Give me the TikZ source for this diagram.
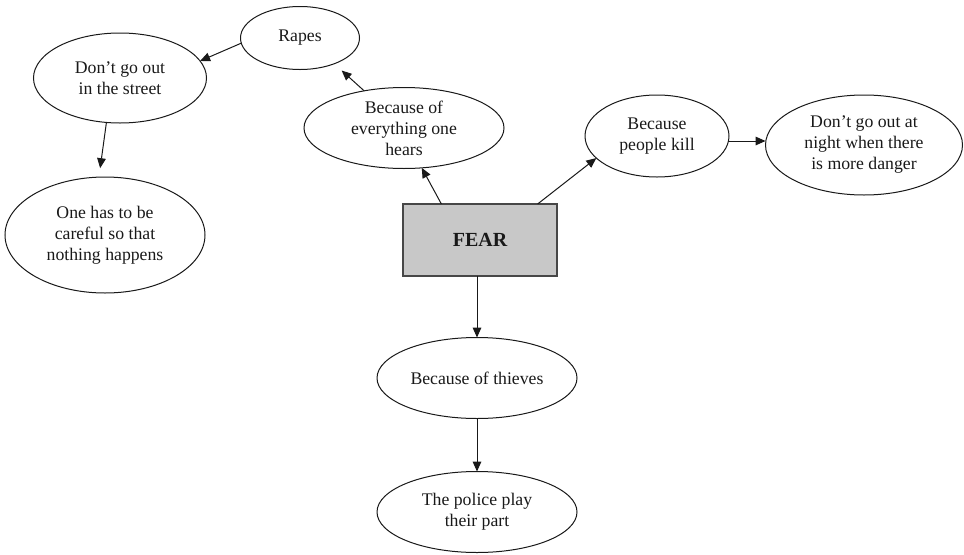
\documentclass[tikz,border=0pt]{standalone}
\usepackage{fontspec}
\setmainfont{Liberation Serif}
\usetikzlibrary{shapes.geometric,arrows.meta}
\definecolor{feargray}{RGB}{200,200,200}
\definecolor{lineblk}{RGB}{25,25,25}
\begin{document}
\begin{tikzpicture}[x=0.75pt,y=-0.75pt,
  ell/.style={draw=lineblk, ellipse, inner sep=0pt, outer sep=0pt, line width=0.75pt},
  txt/.style={align=center, font=\fontsize{13.3}{15.75}\selectfont, inner sep=0pt, text=lineblk},
  arr/.style={draw=lineblk, -{Triangle[length=7.5pt,width=6.5pt]}, line width=0.75pt}]
\useasboundingbox (0,0) rectangle (964,554);
\node[ell, minimum width=89.25pt, minimum height=47.25pt, label={[txt]center:Rapes}] (rapes) at (300,38) {};
\node[ell, minimum width=129.75pt, minimum height=67.5pt, label={[txt]center:{Don’t go out\\in the street}}] (street) at (120,78) {};
\node[ell, minimum width=150pt, minimum height=87pt, label={[txt]center:{One has to be\\careful so that\\nothing happens}}] (careful) at (105,235) {};
\node[ell, minimum width=150pt, minimum height=60.75pt, label={[txt]center:{Because of\\everything one\\hears}}] (hears) at (404,128) {};
\node[ell, minimum width=108pt, minimum height=61.5pt, label={[txt]center:{Because\\people kill}}] (kill) at (657,136) {};
\node[ell, minimum width=147.75pt, minimum height=75pt, label={[txt]center:{Don’t go out at\\night when there\\is more danger}}] (night) at (864,145) {};
\node[ell, minimum width=150pt, minimum height=60.75pt, label={[txt]center:{Because of thieves}}] (thieves) at (477,378) {};
\node[ell, minimum width=150pt, minimum height=60.75pt, label={[txt]center:{The police play\\their part}}] (police) at (477,512) {};
\node[draw=lineblk!80, fill=feargray, line width=0.8pt, minimum width=115.5pt, minimum height=54pt, inner sep=0pt, outer sep=0pt, text=lineblk, font=\bfseries\fontsize{15}{18}\selectfont] (fear) at (480,240) {FEAR};
\draw[arr] (fear.137) -- (hears.-66);
\draw[arr, shorten >=7.5pt] (hears.137) -- (rapes.-37);
\draw[arr] (rapes.185) -- (street.12);
\draw[arr, shorten >=6.75pt] (street.253) -- (careful.96);
\draw[arr] (fear.32) -- (kill.200);
\draw[arr] (kill.-4) -- (kill.-4 -| night.west);
\draw[arr] (thieves.north |- fear.south) -- (thieves.north);
\draw[arr] (thieves.south) -- (police.north);
\end{tikzpicture}
\end{document}
